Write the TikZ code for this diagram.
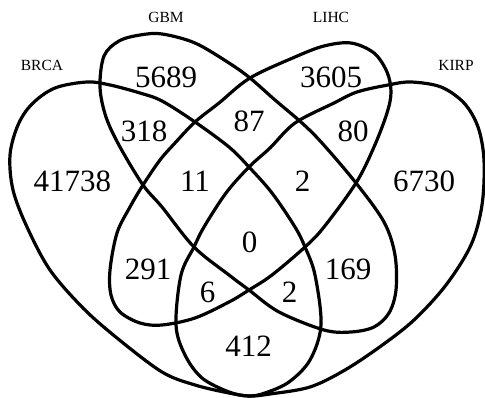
\documentclass[tikz,border=0pt]{standalone}
\usepackage{fontspec}
\setmainfont{Liberation Serif}
\begin{document}
\begin{tikzpicture}[x=1pt,y=-1pt,
  setline/.style={line width=3.2pt, line join=round},
  num/.style={font=\fontsize{31}{31}\selectfont, inner sep=0pt},
  lab/.style={font=\fontsize{15.5}{15.5}\selectfont, inner sep=0pt}]
\useasboundingbox (0,0) rectangle (485,398);
% GBM
\draw[setline] plot[smooth cycle, tension=0.55] coordinates {
 (140,35) (162,34) (195,43) (229,63) (250,78) (275,100) (302,123) (322,143)
 (356,183) (384,222) (395,255) (396,290) (389,313) (374,327) (351,332) (324,330)
 (279,312) (249,290) (229,275) (194,247) (162,207) (143,185) (120,147)
 (106,117) (100,87) (104,56) (119,41)};
% LIHC
\draw[setline] plot[smooth cycle, tension=0.55] coordinates {
 (351,43) (374,53) (387,72) (391,92) (387,113) (374,147) (356,183) (324,227)
 (305,247) (272,275) (249,290) (229,302) (195,318) (162,325) (140,323)
 (120,312) (111,295) (110,270) (117,233) (130,207) (143,185) (160,160)
 (175,143) (195,122) (219,103) (250,78) (295,57) (324,46)};
% BRCA
\draw[setline] plot[smooth cycle, tension=0.55] coordinates {
 (87,82) (110,85) (140,93) (162,101) (195,122) (229,147) (249,167) (272,193)
 (295,227) (305,247) (315,275) (321,325) (310,360) (289,382) (265,393)
 (249,396) (229,393) (195,385) (162,372) (117,338) (83,308) (50,270)
 (27,227) (13,190) (10,155) (18,125) (32,104) (55,88)};
% KIRP
\draw[setline] plot[smooth cycle, tension=0.55] coordinates {
 (411,82) (441,87) (464,103) (478,127) (484,160) (482,205) (471,245)
 (446,285) (414,320) (381,346) (345,370) (310,387) (270,394) (249,396)
 (229,392) (202,378) (185,355) (176,325) (181,275) (194,247) (204,227)
 (226,193) (249,167) (270,148) (295,123) (334,103) (357,92) (388,85)};
% set labels
\node[lab] (brca) at (42,65) {BRCA};
\node[lab] (gbm)  at (166,17) {GBM};
\node[lab] (lihc) at (331,17) {LIHC};
\node[lab] (kirp) at (456,65) {KIRP};
% region counts
\node[num] (n5689)  at (166,77.5) {5689};
\node[num] (n3605)  at (331,77.5) {3605};
\node[num] (n318)   at (144,131) {318};
\node[num] (n87)    at (249,121) {87};
\node[num] (n80)    at (353,131) {80};
\node[num] (n41738) at (72.5,181) {41738};
\node[num] (n11)    at (195,181) {11};
\node[num] (n2a)    at (302.5,181) {2};
\node[num] (n6730)  at (424,181) {6730};
\node[num] (n0)     at (249.5,242) {0};
\node[num] (n291)   at (148,269) {291};
\node[num] (n169)   at (348,269) {169};
\node[num] (n6)     at (207.5,292) {6};
\node[num] (n2b)    at (289.5,292) {2};
\node[num] (n412)   at (248.5,346) {412};
\end{tikzpicture}
\end{document}
